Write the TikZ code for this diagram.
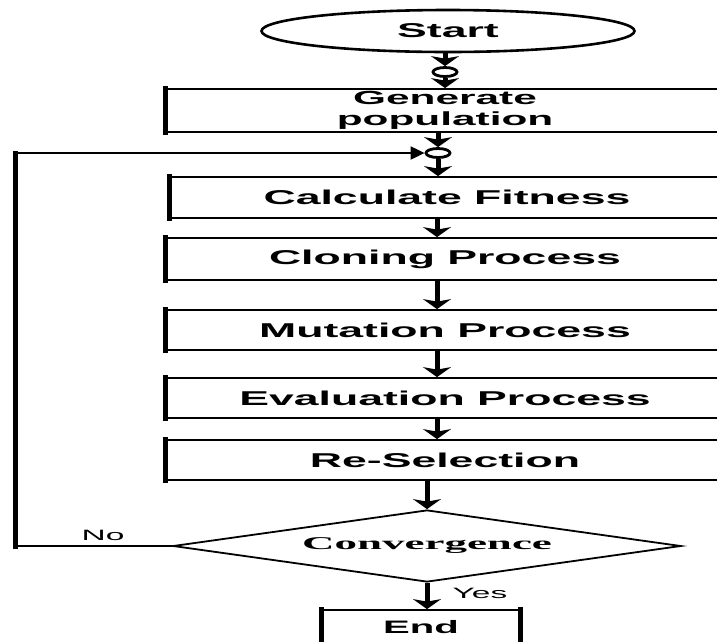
\documentclass[tikz,border=0pt]{standalone}
\usepackage{fontspec}
\usetikzlibrary{shapes.geometric,arrows.meta}
\newfontfamily\lblfont{Liberation Sans}[FakeStretch=2.23]
\newfontfamily\decfont{Liberation Serif}[FakeStretch=2.5]

\begin{document}
\begin{tikzpicture}[x=1pt,y=-1pt,
  every node/.style={inner sep=0pt},
  pbox/.style={rectangle, draw, line width=1.8pt, fill=white, minimum width=558pt,
    align=center, font=\lblfont\bfseries\fontsize{20}{21}\selectfont},
  leftbar/.style={line width=5pt, line cap=rect},
  arr/.style={line width=5pt, -{Stealth[length=10pt,width=28pt,inset=2.5pt]}},
  loopline/.style={line width=2pt},
  junc/.style={ellipse, draw, line width=2.8pt, fill=white, minimum width=24pt, minimum height=9pt},
  note/.style={font=\lblfont\fontsize{15}{17}\selectfont}]

\useasboundingbox (0,0) rectangle (717,641);
\clip (0,0) rectangle (717,641);

% terminator
\node[ellipse, draw, line width=2.6pt, minimum width=373pt, minimum height=42pt,
  font=\lblfont\bfseries\fontsize{20}{21}\selectfont] (start) at (448,31) {Start};

% junction points
\node[junc] (j1) at (445,72) {};
\node[junc] (j2) at (438,153) {};

% process steps
\node[pbox, minimum height=43pt, font=\lblfont\bfseries\fontsize{19}{21}\selectfont]
  (gen) at (445,110.5) {Generate\\population};
\node[pbox, minimum height=41pt, minimum width=554pt] (calc) at (447,197.5) {Calculate Fitness};
\node[pbox, minimum height=42pt] (clon) at (445,259) {Cloning Process};
\node[pbox, minimum height=40pt] (mut) at (445,330) {Mutation Process};
\node[pbox, minimum height=40pt] (eval) at (445,398) {Evaluation Process};
\node[pbox, minimum height=40pt] (resel) at (445,460) {Re-Selection};

% thick left edges of the process boxes
\foreach \b in {gen,calc,clon,mut,eval,resel}
  \draw[leftbar] (\b.north west) -- (\b.south west);

% decision
\node[diamond, draw, line width=1.8pt, aspect=7, minimum width=508pt, minimum height=72pt,
  font=\decfont\bfseries\fontsize{18}{20}\selectfont] (conv) at (427,546) {Convergence};

% end
\node[rectangle, draw, line width=1.8pt, minimum width=198pt, minimum height=34pt,
  font=\lblfont\bfseries\fontsize{18}{20}\selectfont] (end) at (421,627) {End};
\draw[leftbar] (end.north west) -- (end.south west);
\draw[leftbar] (end.north east) -- (end.south east);

% flow arrows
\coordinate (colA) at (437,0);
\draw[arr] (start.south -| j1) -- (j1.north);
\draw[arr] (j1.south) -- (gen.north -| j1);
\draw[arr] (gen.south -| j2) -- (j2.north);
\draw[arr] (j2.south) -- (calc.north -| j2);
\draw[arr] (calc.south -| colA) -- (clon.north -| colA);
\draw[arr] (clon.south -| colA) -- (mut.north -| colA);
\draw[arr] (mut.south -| colA) -- (eval.north -| colA);
\draw[arr] (eval.south -| colA) -- (resel.north -| colA);
\draw[arr] (resel.south -| conv.north) -- (conv.north);
\draw[arr] (conv.south) -- (end.north -| conv.south);

% feedback loop
\coordinate (lb) at (15,546);
\coordinate (lt) at (15,153);
\draw[loopline] (conv.west) -- (lb);
\draw[leftbar] (lb) -- (lt);
\draw[loopline, -{Triangle[length=14pt,width=13pt]}] (lt) -- (j2.west);

% branch labels
\node[note] (no) at (103,535) {No};
\node[note] (yes) at (480,593) {Yes};
\end{tikzpicture}
\end{document}
